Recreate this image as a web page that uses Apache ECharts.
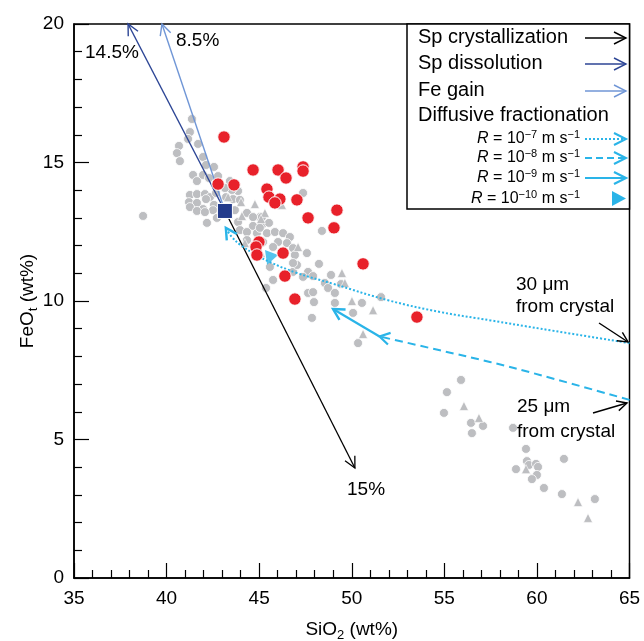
<!DOCTYPE html>
<html><head><meta charset="utf-8">
<script src="https://cdn.jsdelivr.net/npm/echarts@6/dist/echarts.min.js"></script>
<style>html,body{margin:0;padding:0;background:#fff}#c{width:644px;height:641px}</style>
</head><body><div id="c"></div>
<script>
const FONT = '"Liberation Sans", Arial, Helvetica, sans-serif';

// ---- data (SiO2 wt%, FeOt wt%) ----
const graySiO2 = [41.37,41.26,41.16,40.67,40.56,40.72,41.70,41.97,42.13,42.56,41.43,41.64,41.97,42.29,42.78,43.42,43.86,43.53,43.15,41.26,41.64,42.07,42.34,42.67,41.21,41.64,42.13,42.56,43.21,43.59,43.96,41.26,41.97,41.64,42.51,43.69,44.34,45.04,42.07,42.18,42.72,43.86,44.67,45.15,44.67,45.15,45.53,43.96,44.34,44.88,45.04,45.42,45.85,46.29,46.66,46.02,45.75,45.21,44.34,46.50,46.83,45.58,45.37,46.83,47.04,46.93,46.83,47.58,48.23,47.64,47.91,47.37,48.88,48.55,48.72,49.42,49.09,47.64,47.91,47.96,49.09,50.55,51.58,50.07,47.85,50.34,45.75,47.37,48.39,38.73,55.90,55.14,54.98,56.44,57.09,56.49,58.71,59.41,58.87,59.46,59.57,59.95,60.06,60.00,59.73,61.46,60.38,61.35,63.13];
const grayFeO  = [16.57,16.10,15.85,15.60,15.34,15.05,15.67,15.20,14.91,14.84,14.55,14.33,14.55,14.44,14.51,14.33,13.97,14.01,14.08,13.83,13.86,13.86,13.75,13.90,13.57,13.54,13.68,13.47,13.75,13.68,13.65,13.39,13.32,13.25,13.28,13.28,13.18,13.03,13.21,12.82,13.00,12.85,13.03,13.03,12.71,12.74,12.82,12.56,12.49,12.45,12.64,12.45,12.49,12.45,12.31,12.13,11.95,12.13,12.20,12.09,11.91,11.23,10.47,11.05,11.30,11.66,11.37,11.73,11.34,11.05,10.90,10.87,10.94,10.65,10.47,10.61,10.29,10.29,10.32,9.96,9.93,9.93,10.14,9.57,9.39,8.48,10.76,13.90,12.53,13.07,7.15,6.71,5.96,5.60,5.49,5.23,5.42,4.66,3.93,4.22,4.08,4.12,4.01,3.72,3.57,4.30,3.25,3.03,2.85];
const grayTriSiO2 = [44.77,43.32,44.07,45.10,44.23,45.31,46.23,47.10,49.47,49.63,50.01,51.15,50.61,56.06,56.87,59.41,62.22,62.76,45.10,44.02];
const grayTriFeO  = [13.50,13.75,13.07,11.73,12.09,13.18,13.47,11.95,11.01,10.65,10.00,9.67,8.81,6.21,5.78,3.93,2.74,2.17,12.96,13.57];
const redSiO2 = [43.10,42.78,43.64,44.67,46.02,46.45,47.37,47.37,45.42,45.53,46.12,45.85,47.04,47.64,49.20,49.04,44.99,44.83,44.88,46.29,46.39,46.93,50.61,53.52];
const redFeO  = [15.92,14.22,14.19,14.73,14.73,14.44,14.84,14.69,14.04,13.75,13.68,13.54,13.65,13.00,13.28,12.64,12.13,11.95,11.66,11.73,10.90,10.07,11.34,9.42];
const parentSiO2 = [43.15];
const parentFeO  = [13.25];

// model vectors (start = parent, end =)
const crystSiO2 = [43.15, 50.17], crystFeO = [13.25, 3.97];   // Sp crystallization 15%
const dissSiO2  = [43.15, 37.92], dissFeO  = [13.25, 20.0];   // Sp dissolution 14.5%
const feSiO2    = [43.15, 39.75], feFeO    = [13.25, 20.0];   // Fe gain 8.5%

// diffusive fractionation paths
const r7SiO2 = [65.0, 60.2, 57.5, 54.8, 52.0, 49.0, 47.0, 45.6, 44.7, 44.0, 43.5, 43.2];
const r7FeO  = [8.48, 9.00, 9.30, 9.60, 10.02, 10.62, 11.02, 11.40, 11.72, 12.02, 12.33, 12.64];
const r8SiO2 = [65.0, 60.16, 57.46, 54.76, 51.5];
const r8FeO  = [6.43, 7.33, 7.80, 8.22, 8.72];
const r9SiO2 = [51.5, 48.99];
const r9FeO  = [8.72, 9.71];
const r10SiO2 = [45.55];
const r10FeO  = [11.53];

const CYAN = '#2ab4e8', DBLUE = '#2c4595', LBLUE = '#7096d6', GRAY = '#bdbec1', RED = '#e8212a';

function chevron(P, Q, color, L, W, lw) {
  const dx = P[0]-Q[0], dy = P[1]-Q[1], d = Math.hypot(dx, dy) || 1;
  const ux = dx/d, uy = dy/d, nx = -uy, ny = ux;
  return {type:'polyline', shape:{points:[[P[0]-L*ux+W*nx, P[1]-L*uy+W*ny],[P[0],P[1]],[P[0]-L*ux-W*nx, P[1]-L*uy-W*ny]]},
          style:{stroke:color, fill:null, lineWidth:lw, lineJoin:'miter'}};
}
function arrowSeries(name, xs, ys, o) {
  return {
    type:'custom', name, coordinateSystem:'cartesian2d', silent:true, z:o.z || 3, clip:false,
    data: xs.map((x,i)=>[x, ys[i]]), encode:{x:0, y:1},
    renderItem(params, api) {
      if (params.dataIndex !== 0) return null;
      const pts = xs.map((x,i)=>api.coord([x, ys[i]]));
      const ch = [{type:'polyline', shape:{points:pts, smooth:o.smooth || 0},
                   style:{stroke:o.color, lineWidth:o.width, fill:null, lineDash:o.dash || null}}];
      if (o.head) ch.push(chevron(pts[pts.length-1], pts[pts.length-2], o.color, o.hl || 10, o.hw || 5, o.hlw || o.width));
      return {type:'group', children:ch};
    }
  };
}

const chart = echarts.init(document.getElementById('c'));
const axisCommon = {
  type:'value',
  axisLine:{onZero:false, lineStyle:{color:'#000', width:1.5}},
  axisTick:{inside:true, length:15, lineStyle:{color:'#000', width:1.2}},
  minorTick:{show:true, splitNumber:5, length:8, lineStyle:{color:'#000', width:1.2}},
  axisLabel:{color:'#000', fontSize:19, fontFamily:FONT},
  splitLine:{show:false}, minorSplitLine:{show:false},
  nameLocation:'middle', nameMoveOverlap:false
};
const nameRich = {a:{fontSize:19, fontFamily:FONT, color:'#000', lineHeight:24}, b:{fontSize:13, fontFamily:FONT, color:'#000', lineHeight:13, verticalAlign:'bottom'}};
chart.setOption({
  animation:false,
  backgroundColor:'#fff',
  grid:{left:74, right:14.5, top:24, bottom:63, containLabel:false, outerBoundsMode:'none',
        show:true, borderColor:'#000', borderWidth:1.5, backgroundColor:'transparent'},
  xAxis:Object.assign({}, axisCommon, {min:35, max:65, interval:5,
    axisLabel:Object.assign({}, axisCommon.axisLabel, {margin:11}),
    name:'{a|SiO}{b|2}{a| (wt%)}', nameGap:40, nameTextStyle:{rich:nameRich}}),
  yAxis:Object.assign({}, axisCommon, {min:0, max:20, interval:5,
    axisLabel:Object.assign({}, axisCommon.axisLabel, {margin:10}),
    name:'{a|FeO}{b|t}{a| (wt%)}', nameGap:34, nameRotate:90, nameTextStyle:{rich:nameRich}}),
  series:[
    {type:'scatter', name:'gray', z:2, silent:true, symbol:'circle', symbolSize:9,
     itemStyle:{color:GRAY, borderColor:'#fff', borderWidth:0.8, opacity:1},
     data:graySiO2.map((x,i)=>[x, grayFeO[i]])},
    {type:'scatter', name:'grayTri', z:2, silent:true, symbol:'triangle', symbolSize:9,
     itemStyle:{color:GRAY, borderColor:'#fff', borderWidth:0.6, opacity:1},
     data:grayTriSiO2.map((x,i)=>[x, grayTriFeO[i]])},
    arrowSeries('cryst', crystSiO2, crystFeO, {color:'#000', width:1.3, head:true, hl:11, hw:5.5}),
    arrowSeries('diss', dissSiO2, dissFeO, {color:DBLUE, width:1.4, head:true, hl:11, hw:5.5}),
    arrowSeries('fe', feSiO2, feFeO, {color:LBLUE, width:1.4, head:true, hl:11, hw:5.5}),
    arrowSeries('r7', r7SiO2, r7FeO, {color:CYAN, width:2, dash:[2,2], smooth:0.4, head:true, hl:11, hw:6, hlw:2.4}),
    arrowSeries('r8', r8SiO2, r8FeO, {color:CYAN, width:2, dash:[8,5], smooth:0.4, head:true, hl:10, hw:6, hlw:2.2}),
    arrowSeries('r9', r9SiO2, r9FeO, {color:CYAN, width:2.2, head:true, hl:11, hw:6, hlw:2.4}),
    {type:'scatter', name:'r10', z:4, silent:true, symbol:'triangle', symbolSize:[14,13], symbolRotate:160,
     itemStyle:{color:CYAN}, data:r10SiO2.map((x,i)=>[x, r10FeO[i]])},
    {type:'scatter', name:'red', z:5, silent:true, symbol:'circle', symbolSize:12.5,
     itemStyle:{color:RED, borderColor:'#fff', borderWidth:1, opacity:1},
     data:redSiO2.map((x,i)=>[x, redFeO[i]])},
    {type:'scatter', name:'parent', z:6, silent:true, symbol:'rect', symbolSize:15,
     itemStyle:{color:'#233b8b', borderColor:'#fff', borderWidth:1, opacity:1},
     data:parentSiO2.map((x,i)=>[x, parentFeO[i]])}
  ]
});

// ---- legend & annotations (graphic) ----
function lgArrow(y, color, dash, lw) {
  lw = lw || 1.4;
  return [
    {type:'line', shape:{x1:585, y1:y, x2:626, y2:y}, style:{stroke:color, lineWidth:lw, lineDash:dash || null}, z:101},
    {type:'polyline', shape:{points:[[614,y-6],[626,y],[614,y+6]]}, style:{stroke:color, fill:null, lineWidth:lw}, z:101}
  ];
}
function txt(x, y, s, size, align) {
  return {type:'text', x, y, z:101, style:{text:s, fontSize:size, fontFamily:FONT, fill:'#000', align:align || 'left', verticalAlign:'middle'}};
}
function rTxt(y, exp) {
  return {type:'text', x:580, y, z:101, style:{
    text:'{i|R} = 10{s|−' + exp + '} m s{s|−1}', align:'right', verticalAlign:'middle',
    rich:{i:{fontSize:16, fontStyle:'italic', fontFamily:FONT, fill:'#000', lineHeight:20},
          s:{fontSize:11, fontFamily:FONT, fill:'#000', lineHeight:12, verticalAlign:'top'}},
    fontSize:16, fontFamily:FONT, fill:'#000', lineHeight:20}};
}
function annArrow(x1, y1, x2, y2) {
  const c = chevron([x2, y2], [x1, y1], '#000', 10, 5, 1.4); c.z = 101;
  return [{type:'line', shape:{x1, y1, x2, y2}, style:{stroke:'#000', lineWidth:1.4}, z:101}, c];
}
const g = [
  {type:'rect', shape:{x:407, y:24, width:222.5, height:185}, style:{fill:'#fff', stroke:'#000', lineWidth:1.5}, z:100},
  txt(418, 37, 'Sp crystallization', 20),
  txt(418, 63, 'Sp dissolution', 20),
  txt(418, 90, 'Fe gain', 20),
  txt(418, 115, 'Diffusive fractionation', 20),
  rTxt(139, '7'), rTxt(158, '8'), rTxt(178, '9'), rTxt(199, '10'),
  ...lgArrow(38, '#000'), ...lgArrow(64, DBLUE), ...lgArrow(91, LBLUE),
  ...lgArrow(139, CYAN, [2,2], 2), ...lgArrow(158, CYAN, [7,4], 2), ...lgArrow(178, CYAN, null, 2.2),
  {type:'polygon', shape:{points:[[612,191],[626,198.5],[612,206]]}, style:{fill:CYAN}, z:101},
  txt(85, 53, '14.5%', 19),
  txt(176, 41, '8.5%', 19),
  txt(347, 490, '15%', 19),
  txt(516, 285, '30 μm', 19),
  txt(516, 307, 'from crystal', 19),
  ...annArrow(599, 323, 628, 342),
  txt(517, 407, '25 μm', 19),
  txt(517, 432, 'from crystal', 19),
  ...annArrow(593, 413, 627, 403)
];
chart.setOption({graphic:{elements:g}});
</script></body></html>
